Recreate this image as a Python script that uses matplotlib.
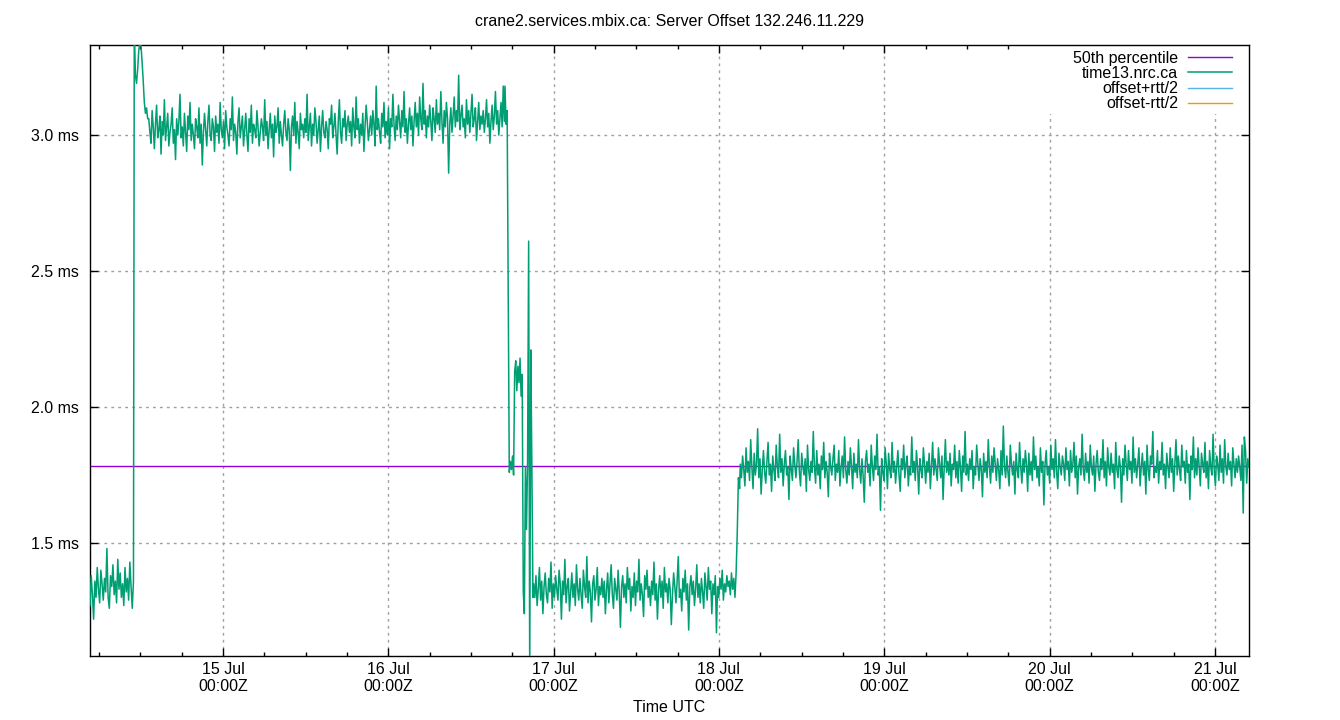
import numpy as np
import pandas as pd
import matplotlib
matplotlib.use("Agg")
import matplotlib.pyplot as plt
import matplotlib.dates as mdates
from matplotlib.patches import Rectangle

plt.rcParams['font.family'] = ['Liberation Sans', 'DejaVu Sans']
plt.rcParams['font.size'] = 11.5

# time origin: 15 Jul 00:00Z, segment bounds in hours
t0 = pd.Timestamp("2024-07-15 00:00")
t_start, t_end = -19.31, 148.96

# offset to time13.nrc.ca in ms, per segment (start h, end h, values)
seg_a = (-19.31, -13.0, [
    1.27, 1.38, 1.31, 1.22, 1.36, 1.30, 1.41, 1.33, 1.28, 1.40, 1.35, 1.29, 1.37, 1.32, 1.48, 1.30, 1.26, 1.38, 1.34,
    1.42, 1.31, 1.36, 1.28, 1.44, 1.33, 1.39, 1.30, 1.35, 1.27, 1.41, 1.32, 1.37, 1.29, 1.43, 1.34, 1.26, 1.36])

seg_b = (-12.88, 40.85, [
    3.40, 3.22, 3.19, 3.24, 3.31, 3.34, 3.33, 3.27, 3.20, 3.12, 3.08, 3.10, 3.06,
    3.06, 3.01, 2.97, 3.09, 3.03, 2.95, 3.04, 3.11, 2.99, 3.02, 3.07, 2.93, 3.05, 3.00, 3.13, 2.98, 3.03, 3.08, 2.96, 3.01,
    3.04, 3.10, 2.97, 3.02, 2.91, 3.06, 3.00, 3.05, 3.15, 2.99, 3.03, 2.96, 3.08, 3.01, 2.94, 3.07, 3.02, 3.12, 2.98, 3.04,
    3.00, 2.95, 3.06, 3.03, 2.99, 3.10, 2.97, 3.04, 2.89, 3.01, 3.08, 3.02, 2.96, 3.05, 3.11, 3.00, 2.98, 3.06, 3.03, 2.94,
    3.07, 3.01, 3.04, 2.97, 3.12, 3.02, 2.99, 3.05, 2.95, 3.09, 3.03, 3.00, 2.96, 3.06, 3.02, 3.14, 2.98, 3.04, 3.01, 2.93,
    3.05, 3.10, 2.99, 3.03, 3.07, 2.96, 3.02, 3.08, 3.00, 2.94, 3.06, 3.01, 3.11, 2.97, 3.04, 3.02, 2.99, 3.09, 3.03, 2.96,
    3.01, 3.06, 3.03, 2.98, 3.13, 3.00, 3.05, 2.95, 3.02, 3.08, 2.99, 3.04, 2.92, 3.07, 3.01, 3.03, 3.10, 2.97, 3.05, 3.00,
    2.96, 3.04, 3.09, 3.01, 2.98, 3.06, 3.02, 2.87, 3.03, 3.07, 3.00, 3.12, 2.97, 3.05, 3.01, 2.95, 3.08, 3.02, 3.04, 2.99,
    3.06, 3.01, 3.15, 2.98, 3.03, 3.08, 2.96, 3.04, 3.00, 3.10, 3.05, 2.97, 3.02, 3.07, 2.94, 3.03, 3.09, 3.01, 2.99, 3.05,
    3.02, 2.95, 3.06, 3.04, 3.11, 2.99, 3.03, 3.08, 3.00, 2.93, 3.05, 3.13, 3.01, 2.97, 3.06, 3.03, 3.09, 2.98, 3.04, 3.07,
    3.01, 3.05, 2.96, 3.10, 3.03, 2.99, 3.14, 3.02, 3.06, 2.97, 3.04, 3.00, 3.08, 2.94, 3.03, 3.11, 3.05, 2.98, 3.02, 3.07,
    3.00, 3.09, 3.04, 2.96, 3.18, 3.02, 3.06, 3.01, 2.97, 3.08, 3.03, 3.12, 2.99, 3.05, 3.00, 3.10, 2.95, 3.06, 3.03, 3.15,
    3.04, 2.98, 3.07, 3.02, 3.11, 3.05, 2.99, 3.09, 3.03, 3.16, 3.01, 3.06, 2.97, 3.04, 3.10, 3.02, 3.07, 2.96, 3.05, 3.12,
    3.03, 3.08, 3.00, 3.14, 3.06, 3.02, 3.19, 3.04, 3.09, 2.99, 3.07, 3.03, 3.11, 3.05, 2.98, 3.10, 3.06, 3.01, 3.13, 3.04,
    3.08, 3.02, 3.16, 3.05, 2.97, 3.09, 3.03, 3.12, 3.06, 2.86, 3.04, 3.10, 3.01, 3.07, 3.14, 3.03, 3.09, 3.05, 3.22, 3.02,
    3.07, 3.11, 3.03, 3.06, 2.99, 3.13, 3.04, 3.09, 3.01, 3.08, 3.15, 3.03, 3.06, 3.10, 2.98, 3.05, 3.12, 3.02, 3.07, 3.04,
    3.09, 3.01, 3.06, 3.13, 3.03, 3.08, 2.97, 3.05, 3.11, 3.02, 3.07, 3.16, 3.04, 3.09, 3.00, 3.06, 3.12, 3.03, 3.18, 3.05])

seg_c = (40.94, 45.0, [
    3.18, 3.04, 3.09, 2.41, 1.76, 1.80, 1.77, 1.82, 1.75, 2.13, 2.17, 2.06, 2.15, 2.09,
    2.18, 2.04, 2.12, 1.32, 1.24, 1.78, 1.55, 1.80, 2.61, 1.00, 2.21, 1.78, 1.30])

seg_d = (45.1, 75.0, [
    1.35, 1.30, 1.38, 1.27, 1.33, 1.41, 1.29, 1.36, 1.24, 1.34, 1.39, 1.31, 1.28, 1.37, 1.32, 1.43, 1.26, 1.35, 1.30, 1.38,
    1.33, 1.29, 1.40, 1.35, 1.22, 1.36, 1.31, 1.44, 1.28, 1.34, 1.37, 1.25, 1.32, 1.39, 1.30, 1.35, 1.27, 1.42, 1.33, 1.29,
    1.37, 1.31, 1.26, 1.40, 1.34, 1.30, 1.45, 1.28, 1.36, 1.32, 1.21, 1.35, 1.38, 1.29, 1.33, 1.41, 1.27, 1.34, 1.31, 1.37,
    1.30, 1.36, 1.24, 1.33, 1.39, 1.28, 1.35, 1.42, 1.31, 1.26, 1.37, 1.33, 1.29, 1.40, 1.32, 1.19, 1.34, 1.38, 1.30, 1.35,
    1.28, 1.41, 1.33, 1.37, 1.25, 1.34, 1.30, 1.39, 1.27, 1.36, 1.32, 1.44, 1.29, 1.35, 1.31, 1.23, 1.38, 1.33, 1.40, 1.30,
    1.34, 1.27, 1.36, 1.31, 1.43, 1.29, 1.35, 1.22, 1.33, 1.38, 1.30, 1.36, 1.26, 1.41, 1.32, 1.35, 1.28, 1.37, 1.33, 1.20,
    1.31, 1.39, 1.34, 1.28, 1.36, 1.45, 1.30, 1.33, 1.25, 1.37, 1.32, 1.40, 1.29, 1.35, 1.18, 1.34, 1.38, 1.31, 1.36, 1.27,
    1.33, 1.42, 1.30, 1.35, 1.28, 1.37, 1.32, 1.26, 1.39, 1.34, 1.29, 1.41, 1.33, 1.36, 1.24, 1.35, 1.31, 1.38, 1.17, 1.34,
    1.30, 1.37, 1.33, 1.40, 1.29, 1.35, 1.32, 1.38, 1.34, 1.36, 1.31, 1.39, 1.33, 1.37, 1.30, 1.39, 1.54, 1.74, 1.70])

seg_e = (75.1, 148.96, [
    1.79, 1.74, 1.82, 1.77, 1.71, 1.85, 1.76, 1.80, 1.73, 1.88, 1.78, 1.70, 1.83, 1.75, 1.79, 1.92, 1.74, 1.81, 1.68, 1.77,
    1.84, 1.76, 1.72, 1.80, 1.87, 1.75, 1.79, 1.69, 1.82, 1.77, 1.73, 1.86, 1.78, 1.74, 1.90, 1.76, 1.81, 1.71, 1.79, 1.84,
    1.75, 1.78, 1.66, 1.82, 1.77, 1.73, 1.85, 1.79, 1.74, 1.80, 1.88, 1.76, 1.71, 1.83, 1.78, 1.75, 1.81, 1.69, 1.86, 1.77,
    1.73, 1.80, 1.76, 1.91, 1.78, 1.72, 1.84, 1.75, 1.79, 1.70, 1.82, 1.77, 1.87, 1.74, 1.80, 1.76, 1.67, 1.83, 1.78, 1.75,
    1.81, 1.86, 1.73, 1.79, 1.76, 1.84, 1.71, 1.78, 1.82, 1.74, 1.89, 1.77, 1.72, 1.80, 1.75, 1.85, 1.78, 1.70, 1.83, 1.76,
    1.79, 1.74, 1.88, 1.77, 1.72, 1.81, 1.75, 1.65, 1.80, 1.84, 1.76, 1.79, 1.71, 1.86, 1.78, 1.73, 1.82, 1.77, 1.90, 1.75,
    1.78, 1.62, 1.81, 1.76, 1.73, 1.85, 1.79, 1.70, 1.83, 1.77, 1.74, 1.87, 1.76, 1.80, 1.72, 1.78, 1.84, 1.75, 1.69, 1.81,
    1.77, 1.86, 1.74, 1.79, 1.82, 1.71, 1.78, 1.75, 1.89, 1.76, 1.80, 1.73, 1.84, 1.78, 1.68, 1.81, 1.77, 1.74, 1.85, 1.79,
    1.72, 1.80, 1.76, 1.83, 1.70, 1.78, 1.87, 1.75, 1.81, 1.77, 1.73, 1.85, 1.79, 1.74, 1.82, 1.66, 1.78, 1.88, 1.76, 1.80,
    1.75, 1.83, 1.71, 1.79, 1.77, 1.86, 1.74, 1.80, 1.72, 1.84, 1.78, 1.69, 1.82, 1.76, 1.91, 1.75, 1.79, 1.73, 1.81, 1.77,
    1.84, 1.70, 1.78, 1.75, 1.86, 1.79, 1.73, 1.81, 1.77, 1.67, 1.83, 1.76, 1.80, 1.74, 1.88, 1.78, 1.72, 1.82, 1.76, 1.85,
    1.79, 1.73, 1.81, 1.77, 1.70, 1.84, 1.75, 1.93, 1.78, 1.74, 1.82, 1.76, 1.71, 1.86, 1.79, 1.75, 1.80, 1.68, 1.83, 1.77,
    1.74, 1.87, 1.78, 1.72, 1.81, 1.76, 1.84, 1.79, 1.69, 1.83, 1.75, 1.80, 1.73, 1.89, 1.77, 1.82, 1.74, 1.78, 1.71, 1.85,
    1.76, 1.80, 1.64, 1.79, 1.84, 1.75, 1.78, 1.72, 1.86, 1.77, 1.81, 1.74, 1.88, 1.76, 1.70, 1.83, 1.78, 1.75, 1.82, 1.79,
    1.73, 1.85, 1.77, 1.80, 1.71, 1.84, 1.76, 1.79, 1.87, 1.74, 1.82, 1.68, 1.78, 1.81, 1.75, 1.90, 1.77, 1.73, 1.83, 1.76,
    1.80, 1.72, 1.86, 1.78, 1.75, 1.82, 1.69, 1.79, 1.84, 1.76, 1.73, 1.81, 1.77, 1.88, 1.74, 1.80, 1.71, 1.85, 1.78, 1.75,
    1.83, 1.76, 1.79, 1.70, 1.87, 1.77, 1.74, 1.82, 1.78, 1.65, 1.81, 1.75, 1.86, 1.79, 1.73, 1.84, 1.77, 1.80, 1.72, 1.89,
    1.76, 1.81, 1.74, 1.79, 1.85, 1.71, 1.78, 1.83, 1.75, 1.80, 1.68, 1.86, 1.77, 1.73, 1.82, 1.79, 1.91, 1.74, 1.78, 1.76,
    1.84, 1.72, 1.80, 1.77, 1.87, 1.75, 1.79, 1.70, 1.83, 1.78, 1.74, 1.85, 1.76, 1.81, 1.69, 1.79, 1.88, 1.75, 1.82, 1.77,
    1.73, 1.86, 1.78, 1.80, 1.72, 1.84, 1.76, 1.79, 1.66, 1.82, 1.77, 1.89, 1.74, 1.81, 1.75, 1.85, 1.78, 1.71, 1.83, 1.79,
    1.76, 1.87, 1.74, 1.80, 1.70, 1.84, 1.78, 1.75, 1.90, 1.77, 1.71, 1.82, 1.79, 1.73, 1.86, 1.76, 1.81, 1.72, 1.88, 1.78,
    1.75, 1.83, 1.77, 1.80, 1.71, 1.85, 1.79, 1.74, 1.81, 1.76, 1.82, 1.78, 1.73, 1.86, 1.61, 1.89, 1.84, 1.72, 1.81, 1.78])

rtt_ms = 21.5          # round trip, far off the visible range
p50_ms = 1.783

hours = []
offset = []
for h0, h1, vals in [seg_a, seg_b, seg_c, seg_d, seg_e]:
    hours.extend(np.linspace(h0, h1, len(vals)))
    offset.extend(vals)
times = t0 + pd.to_timedelta(np.array(hours), unit="h")
offset = np.array(offset)

fig = plt.figure(figsize=(13.4, 7.2), dpi=100)
ax = fig.add_axes([90 / 1340, 64 / 720, 1159 / 1340, 611.5 / 720])

xmin = t0 + pd.Timedelta(hours=t_start)
xmax = t0 + pd.Timedelta(hours=t_end)

ax.plot([xmin, xmax], [p50_ms, p50_ms], color='#9400d3', lw=1.0, label='50th percentile', zorder=2)
ax.plot(times, offset, color='#009e73', lw=1.1, label='time13.nrc.ca', zorder=3)
ax.plot(times, offset + rtt_ms / 2, color='#56b4e9', lw=1.0, label='offset+rtt/2', zorder=3)
ax.plot(times, offset - rtt_ms / 2, color='#e69f00', lw=1.0, label='offset-rtt/2', zorder=3)

ax.set_xlim(xmin, xmax)
ax.set_ylim(1.0846, 3.333)

ax.xaxis.set_major_locator(mdates.DayLocator())
ax.xaxis.set_minor_locator(mdates.HourLocator(byhour=[6, 12, 18]))
ax.xaxis.set_major_formatter(mdates.DateFormatter('%d %b\n%H:%MZ'))
ax.set_yticks([1.5, 2.0, 2.5, 3.0])
ax.yaxis.set_major_formatter(plt.FuncFormatter(lambda v, p: f"{v:.1f} ms"))

ax.tick_params(which='both', direction='in', top=True, right=True, width=1.0)
ax.tick_params(which='major', length=6, labelsize=11.5)
ax.tick_params(axis='x', which='major', pad=4)
ax.tick_params(axis='y', which='major', pad=8)
ax.tick_params(which='minor', length=3)
for s in ax.spines.values():
    s.set_linewidth(1.0)

ax.set_axisbelow(True)
ax.grid(True, which='major', color='#a0a0a0', lw=1.0, linestyle=(0, (2, 3)))

# key area hides the grid like gnuplot does
ax.add_patch(Rectangle((0.82, 0.887), 0.18, 0.113, transform=ax.transAxes,
                       facecolor='white', edgecolor='none', zorder=1))

ax.set_title('crane2.services.mbix.ca: Server Offset 132.246.11.229', fontsize=11.5, pad=13)
ax.set_xlabel('Time UTC', fontsize=11.5, labelpad=4)

ax.legend(loc='upper right', bbox_to_anchor=(1 - 17 / 1159, 1 - 6 / 611.5), frameon=False,
          markerfirst=False, handlelength=2.75, handletextpad=0.62, labelspacing=0.02,
          borderaxespad=0, borderpad=0, fontsize=11.5)

fig.savefig('out.png', dpi=100)
